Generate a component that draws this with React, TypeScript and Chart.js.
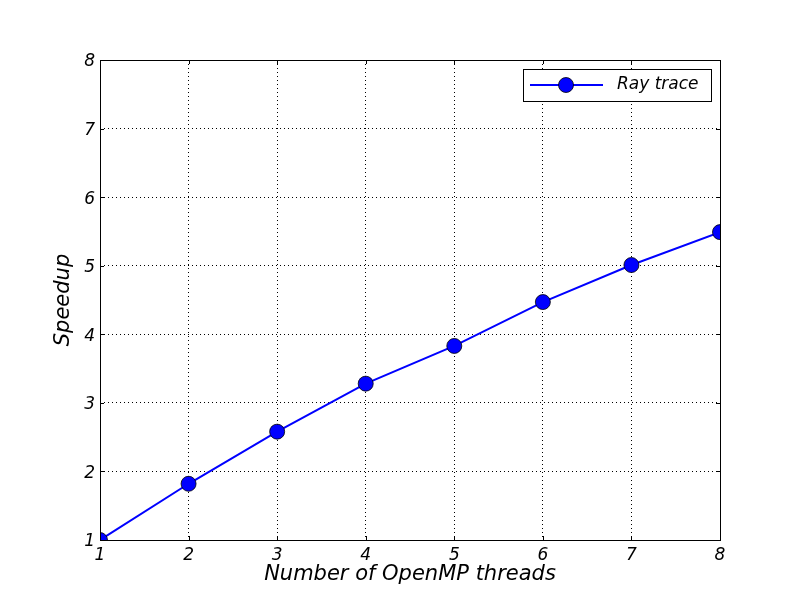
import React, { useEffect, useRef } from "react";
import { Chart, registerables } from "chart.js";

Chart.register(...registerables);

const threads = [1, 2, 3, 4, 5, 6, 7, 8];
const speedup = [1.0, 1.82, 2.58, 3.28, 3.83, 4.47, 5.01, 5.49];
const seriesLabel = "Ray trace";
const xTitle = "Number of OpenMP threads";
const yTitle = "Speedup";

const FONT = "'DejaVu Sans', 'Liberation Sans', sans-serif";

const framePlugin = {
  id: "frame",
  afterDraw(chart: any) {
    const { ctx, chartArea } = chart;
    const { left, right, top, bottom } = chartArea;
    ctx.save();
    ctx.strokeStyle = "#000";
    ctx.lineWidth = 1;
    ctx.setLineDash([]);
    ctx.strokeRect(left + 0.5, top + 0.5, right - left, bottom - top);
    // inward ticks
    const xs = chart.scales.x;
    const ys = chart.scales.y;
    const tl = 4;
    ctx.beginPath();
    xs.ticks.forEach((t: any) => {
      const px = Math.round(xs.getPixelForValue(t.value)) + 0.5;
      ctx.moveTo(px, bottom);
      ctx.lineTo(px, bottom - tl);
      ctx.moveTo(px, top);
      ctx.lineTo(px, top + tl);
    });
    ys.ticks.forEach((t: any) => {
      const py = Math.round(ys.getPixelForValue(t.value)) + 0.5;
      ctx.moveTo(left, py);
      ctx.lineTo(left + tl, py);
      ctx.moveTo(right, py);
      ctx.lineTo(right - tl, py);
    });
    ctx.stroke();

    // legend
    const bx = 523, by = 69, bw = 188, bh = 32;
    ctx.fillStyle = "#fff";
    ctx.fillRect(bx, by, bw, bh);
    ctx.strokeRect(bx + 0.5, by + 0.5, bw, bh);
    const cy = by + bh / 2;
    ctx.strokeStyle = "#0000ff";
    ctx.lineWidth = 2;
    ctx.beginPath();
    ctx.moveTo(530, cy);
    ctx.lineTo(603, cy);
    ctx.stroke();
    ctx.beginPath();
    ctx.arc(566, cy, 7.5, 0, Math.PI * 2);
    ctx.fillStyle = "#0000ff";
    ctx.fill();
    ctx.strokeStyle = "#000";
    ctx.lineWidth = 0.8;
    ctx.stroke();
    ctx.fillStyle = "#000";
    ctx.font = `italic 17px ${FONT}`;
    ctx.textBaseline = "alphabetic";
    ctx.textAlign = "left";
    ctx.fillText(seriesLabel, 617, 88.5);
    ctx.restore();
  },
};

export default function App() {
  const ref = useRef<HTMLCanvasElement>(null);
  useEffect(() => {
    document.body.style.margin = "0";
    const chart = new Chart(ref.current!, {
      type: "line",
      data: {
        datasets: [
          {
            label: seriesLabel,
            data: threads.map((t, i) => ({ x: t, y: speedup[i] })),
            borderColor: "#0000ff",
            backgroundColor: "#0000ff",
            borderWidth: 2,
            pointRadius: 7.5,
            pointBorderColor: "#000",
            pointBorderWidth: 0.8,
            pointBackgroundColor: "#0000ff",
            clip: 0,
            tension: 0,
          } as any,
        ],
      },
      options: {
        responsive: false,
        animation: false,
        layout: { padding: { left: 0, right: 80, top: 60, bottom: 0 } },
        plugins: { legend: { display: false }, tooltip: { enabled: false } },
        scales: {
          x: {
            type: "linear",
            min: 1,
            max: 8,
            afterFit: (s: any) => {
              s.height = 60;
            },
            ticks: {
              stepSize: 1,
              color: "#000",
              padding: 5,
              maxRotation: 0,
              font: { family: FONT, size: 17, style: "italic" },
            },
            grid: {
              color: "#000",
              lineWidth: 1,
              drawTicks: false,
            },
            border: { display: false, dash: [1, 3] },
            title: {
              display: true,
              text: xTitle,
              color: "#000",
              font: { family: FONT, size: 21, style: "italic" },
              padding: { top: 0, bottom: 13 },
            },
          },
          y: {
            type: "linear",
            min: 1,
            max: 8,
            afterFit: (s: any) => {
              s.width = 100;
            },
            ticks: {
              stepSize: 1,
              color: "#000",
              padding: 5,
              labelOffset: 2,
              font: { family: FONT, size: 17, style: "italic" },
            },
            grid: {
              color: "#000",
              lineWidth: 1,
              drawTicks: false,
            },
            border: { display: false, dash: [1, 3] },
            title: {
              display: true,
              text: yTitle,
              color: "#000",
              font: { family: FONT, size: 21, style: "italic" },
              padding: { top: 51, bottom: 0 },
            },
          },
        },
      },
      plugins: [framePlugin],
    });
    return () => chart.destroy();
  }, []);
  return (
    <div style={{ width: 800, height: 600 }}>
      <canvas ref={ref} width={800} height={600} />
    </div>
  );
}
